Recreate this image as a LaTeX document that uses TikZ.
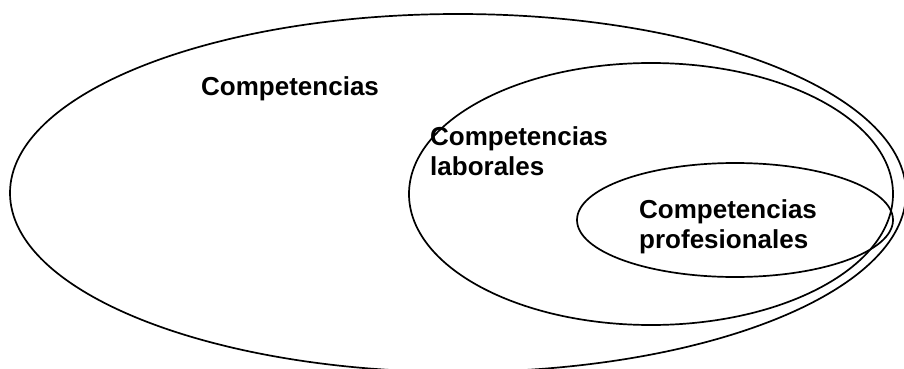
\documentclass[tikz,border=0pt]{standalone}
\usepackage{fontspec}
\setmainfont{Liberation Sans}
\begin{document}
\begin{tikzpicture}[x=1pt,y=-1pt,
  ring/.style={draw=black,line width=1.7pt},
  lbl/.style={font=\bfseries\fontsize{26}{30}\selectfont,inner sep=0pt,align=left}]
\useasboundingbox (0,0) rectangle (904,369);
\begin{scope}
\clip (0,0) rectangle (904,369);
\draw[ring] (458,193) ellipse [x radius=448, y radius=179];
\draw[ring] (651,194) ellipse [x radius=242, y radius=131];
\draw[ring] (735,220) ellipse [x radius=158, y radius=57];
\end{scope}
\node[lbl,anchor=west] (c1) at (201,89) {Competencias};
\node[lbl,anchor=north west] (c2) at (430,126) {Competencias\\laborales};
\node[lbl,anchor=north west] (c3) at (639,199) {Competencias\\profesionales};
\end{tikzpicture}
\end{document}
